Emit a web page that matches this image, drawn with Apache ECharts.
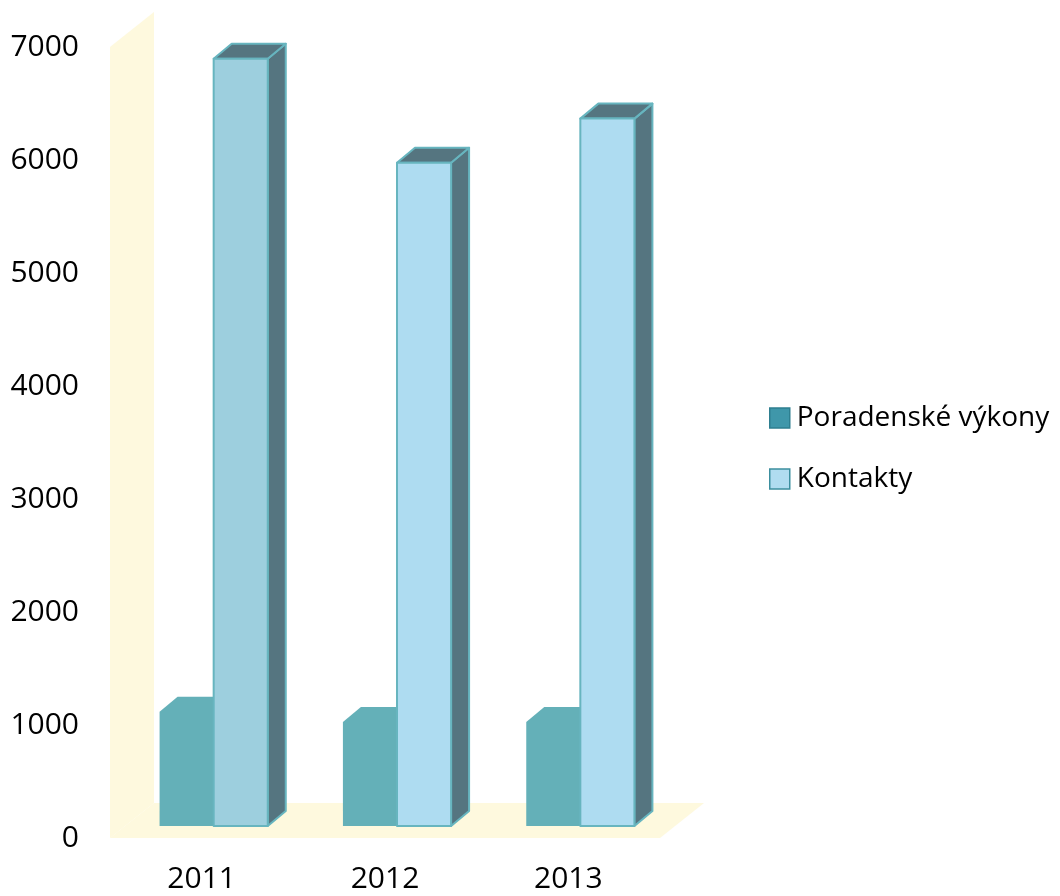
<!DOCTYPE html>
<html>
<head>
<meta charset="utf-8">
<script src="https://cdn.jsdelivr.net/npm/echarts@6/dist/echarts.min.js"></script>
<style>
html,body{margin:0;padding:0;background:#fff;}
#chart{width:1060px;height:896px;}
</style>
</head>
<body>
<div id="chart"></div>
<script>
const categories = ['2011', '2012', '2013'];
const poradenskeVykony = [1010, 920, 920];
const kontakty = [6790, 5870, 6260];
const seriesNames = ['Poradenské výkony', 'Kontakty'];
const yMin = 0, yMax = 7000, yInterval = 1000;

const FONT = '"Open Sans", "Noto Sans", sans-serif';
const wallColor = '#FEF9DE';
const tealColor = '#64B0B8';
const darkFace = '#557580';
const edgeColor = '#67B5BF';
const kontaktyFaceColors = ['#9DCFDE', '#AEDCF1', '#AEDCF1'];

// pseudo-3D offsets
const WALL_DX = 44, WALL_DY = -35;
const BAR_OX = 12, BAR_OY = -12;
const BAR_DX = 18, BAR_DY = -15;
const BAR_FRAC = 0.295;

function wallRender(params, api) {
  const cs = params.coordSys;
  const x = cs.x, y = cs.y, w = cs.width, h = cs.height;
  return {
    type: 'group',
    children: [
      { type: 'polygon', shape: { points: [[x, y + h], [x + w, y + h], [x + w + WALL_DX, y + h + WALL_DY], [x + WALL_DX, y + h + WALL_DY]] },
        style: { fill: wallColor } },
      { type: 'polygon', shape: { points: [[x, y + h], [x, y], [x + WALL_DX, y + WALL_DY], [x + WALL_DX, y + h + WALL_DY]] },
        style: { fill: wallColor } }
    ]
  };
}

function barGeom(api) {
  const cat = api.value(0), v = api.value(1);
  const top = api.coord([cat, v]);
  const base = api.coord([cat, 0]);
  const band = api.size([1, 0])[0];
  const bw = band * BAR_FRAC;
  return { cx: top[0] + BAR_OX, yt: top[1] + BAR_OY, yb: base[1] + BAR_OY, bw };
}

function tealRender(params, api) {
  const g = barGeom(api);
  const x0 = g.cx - g.bw, x1 = g.cx;
  return {
    type: 'polygon',
    shape: { points: [
      [x0, g.yb], [x0, g.yt], [x0 + BAR_DX, g.yt + BAR_DY], [x1 + BAR_DX, g.yt + BAR_DY],
      [x1 + BAR_DX, g.yb + BAR_DY], [x1, g.yb]
    ] },
    style: { fill: tealColor }
  };
}

function kontaktyRender(params, api) {
  const g = barGeom(api);
  const x0 = g.cx, x1 = g.cx + g.bw;
  const edge = { stroke: edgeColor, lineWidth: 2, lineJoin: 'round' };
  return {
    type: 'group',
    children: [
      { type: 'polygon', shape: { points: [[x1, g.yb], [x1, g.yt], [x1 + BAR_DX, g.yt + BAR_DY], [x1 + BAR_DX, g.yb + BAR_DY]] },
        style: Object.assign({ fill: darkFace }, edge) },
      { type: 'polygon', shape: { points: [[x0, g.yt], [x1, g.yt], [x1 + BAR_DX, g.yt + BAR_DY], [x0 + BAR_DX, g.yt + BAR_DY]] },
        style: Object.assign({ fill: darkFace }, edge) },
      { type: 'rect', shape: { x: x0, y: g.yt, width: g.bw, height: g.yb - g.yt },
        style: Object.assign({ fill: kontaktyFaceColors[params.dataIndex] }, edge) }
    ]
  };
}

const chart = echarts.init(document.getElementById('chart'), null, { renderer: 'canvas' });
chart.setOption({
  animation: false,
  backgroundColor: '#fff',
  grid: { left: 110, right: 400, top: 47, bottom: 58, containLabel: false },
  xAxis: {
    type: 'category',
    data: categories,
    axisLine: { show: false },
    axisTick: { show: false },
    axisLabel: { color: '#000', fontSize: 30, fontFamily: FONT, margin: 26 }
  },
  yAxis: {
    type: 'value',
    min: yMin, max: yMax, interval: yInterval,
    axisLine: { show: false },
    axisTick: { show: false },
    splitLine: { show: false },
    axisLabel: { color: '#000', fontSize: 30, fontFamily: FONT, margin: 31, formatter: v => String(v) }
  },
  legend: {
    orient: 'vertical',
    left: 764,
    top: 398,
    itemWidth: 20,
    itemHeight: 20,
    itemGap: 31,
    icon: 'rect',
    selectedMode: false,
    textStyle: { color: '#000', fontSize: 28, fontFamily: FONT, lineHeight: 30, padding: [0, 0, 0, 2] },
    data: [
      { name: seriesNames[0], itemStyle: { color: '#3F97AA', borderColor: '#2E7F90', borderWidth: 1.5 } },
      { name: seriesNames[1], itemStyle: { color: '#B0DCF0', borderColor: '#3C8F9F', borderWidth: 1.5 } }
    ]
  },
  series: [
    { type: 'custom', name: 'walls', silent: true, z: 1, renderItem: wallRender, data: [[0, 0]] },
    { type: 'custom', name: seriesNames[0], z: 2, renderItem: tealRender,
      itemStyle: { color: '#3F97AA' },
      data: categories.map((c, i) => [i, poradenskeVykony[i]]) },
    { type: 'custom', name: seriesNames[1], z: 3, renderItem: kontaktyRender,
      itemStyle: { color: '#B0DCF0' },
      data: categories.map((c, i) => [i, kontakty[i]]) }
  ]
});
</script>
</body>
</html>
